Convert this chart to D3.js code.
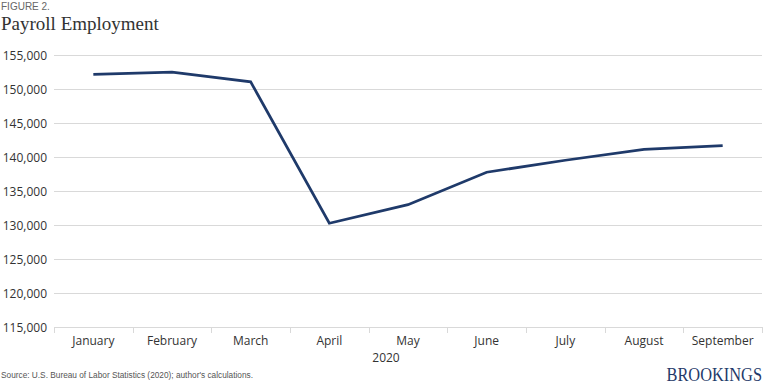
<!DOCTYPE html>
<html><head><meta charset="utf-8">
<script src="https://cdn.jsdelivr.net/npm/d3@7"></script>
<style>body{margin:0;background:#fff}svg{display:block}</style>
</head><body>
<svg id="c" width="768" height="386"></svg>
<script>
const months = ["January","February","March","April","May","June","July","August","September"];
const payroll = [152212,152523,151090,130303,133028,137802,139566,141149,141720];
const yTicks = [115000,120000,125000,130000,135000,140000,145000,150000,155000];

const svg = d3.select("#c");
const L = 54, R = 762, T = 55.3, B = 327.3;
const x = d3.scaleBand().domain(months).range([L, R]);
const y = d3.scaleLinear().domain([115000,155000]).range([B, T]);

svg.append("text").attr("x",1).attr("y",10).attr("font-family","Liberation Sans, Arial, sans-serif")
  .attr("font-size",10).attr("fill","#666").text("FIGURE 2.");
svg.append("text").attr("x",1).attr("y",30).attr("font-family","Liberation Serif, Times New Roman, serif")
  .attr("font-size",19).attr("fill","#333").text("Payroll Employment");

// gridlines
svg.append("g").selectAll("line").data(yTicks.slice(1)).join("line")
  .attr("x1",L).attr("x2",R).attr("y1",d=>Math.round(y(d))+0.5).attr("y2",d=>Math.round(y(d))+0.5)
  .attr("stroke","#d9d9d9").attr("stroke-width",1);

// y axis labels
const fmt = d3.format(",");
svg.append("g").selectAll("text").data(yTicks).join("text")
  .attr("x",47).attr("y",d=>y(d)+4.5).attr("text-anchor","end")
  .attr("font-family","Open Sans, sans-serif").attr("font-size",12).attr("fill","#333")
  .text(d=>fmt(d));

// x axis
const xa = svg.append("g").attr("transform",`translate(0,${Math.round(B)+0.5})`)
  .call(d3.axisBottom(x).tickSize(0).tickPadding(0));
xa.select(".domain").attr("stroke","#d9d9d9").attr("d",`M${L},0H${R}`);
xa.selectAll(".tick text").attr("y",17).attr("dy",0)
  .attr("font-family","Open Sans, sans-serif").attr("font-size",12).attr("fill","#333");
const bounds = months.map(m=>x(m)).concat([R]);
svg.append("g").selectAll("line").data(bounds).join("line")
  .attr("x1",d=>Math.round(d)+0.5).attr("x2",d=>Math.round(d)+0.5)
  .attr("y1",Math.round(B)).attr("y2",Math.round(B)+6).attr("stroke","#d9d9d9");

svg.append("text").attr("x",386).attr("y",362).attr("text-anchor","middle")
  .attr("font-family","Open Sans, sans-serif").attr("font-size",12).attr("fill","#333").text("2020");

// line
const line = d3.line().x((d,i)=>x(months[i])+x.bandwidth()/2).y(d=>y(d));
svg.append("path").datum(payroll).attr("d",line).attr("fill","none")
  .attr("stroke","#1f3a6a").attr("stroke-width",2.75).attr("stroke-linejoin","miter");

svg.append("text").attr("x",1).attr("y",378).attr("font-family","Liberation Sans, Arial, sans-serif")
  .attr("font-size",8.5).attr("fill","#555").attr("textLength",252).attr("lengthAdjust","spacingAndGlyphs")
  .text("Source: U.S. Bureau of Labor Statistics (2020); author's calculations.");
svg.append("text").attr("transform","translate(762,381) scale(0.84,1)").attr("text-anchor","end")
  .attr("font-family","Liberation Serif, Times New Roman, serif")
  .attr("font-size",19.5).attr("fill","#1f3a6a")
  .text("BROOKINGS");
</script>
</body></html>
